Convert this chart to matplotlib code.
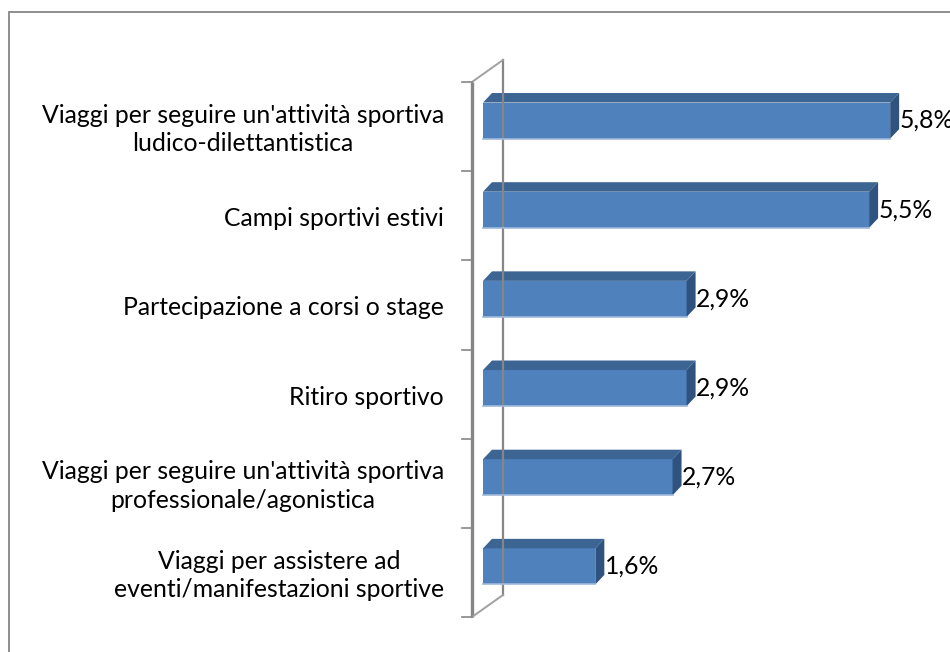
import matplotlib
matplotlib.use("Agg")
import matplotlib.pyplot as plt
from matplotlib.patches import Polygon, Rectangle

plt.rcParams['font.family'] = ['Lato', 'DejaVu Sans']

categories = [
    "Viaggi per seguire un'attività sportiva\nludico-dilettantistica",
    "Campi sportivi estivi",
    "Partecipazione a corsi o stage",
    "Ritiro sportivo",
    "Viaggi per seguire un'attività sportiva\nprofessionale/agonistica",
    "Viaggi per assistere ad\neventi/manifestazioni sportive",
]
values = [5.8, 5.5, 2.9, 2.9, 2.7, 1.6]
value_labels = ["5,8%", "5,5%", "2,9%", "2,9%", "2,7%", "1,6%"]

W, H = 950, 652
PX_X = 70.2   # pixels per percent point
PX_Y = 89.0   # pixels per category band
FS = 17.8

FRONT = "#4f81bd"
TOP = "#3d6594"
SIDE = "#30527f"
GREY = "#868686"

fig = plt.figure(figsize=(W / 100, H / 100), dpi=100)
x0_px, band_top, band_bot = 483, 82, 617
ax = fig.add_axes([x0_px / W, 1 - band_bot / H, (W - x0_px) / W, (band_bot - band_top) / H])
ax.set_xlim(0, (W - x0_px) / PX_X)
ax.set_ylim(len(categories) - 0.5, -0.5)
ax.axis("off")

# outer chart frame (only top and left edges are inside the picture)
fig.patches.append(Rectangle((9 / W, -0.2), 1.2, 1.2 - 12 / H, transform=fig.transFigure,
                             fill=False, edgecolor=GREY, linewidth=1.3))

# 3d wall: front axis line, back line and the two diagonals
n = len(categories)
fx = -11 / PX_X
wdx, wdy = 31 / PX_X, 22 / PX_Y
ax.plot([fx, fx], [-0.5, n - 0.5], color=GREY, lw=2.4, clip_on=False, solid_capstyle="butt")
ax.plot([fx + wdx, fx + wdx], [-0.5 - wdy, n - 0.5 - wdy], color=GREY, lw=1.6, clip_on=False)
ax.plot([fx, fx + wdx], [-0.5, -0.5 - wdy], color="#a0a0a0", lw=1.4, clip_on=False)
ax.plot([fx, fx + wdx], [n - 0.5, n - 0.5 - wdy], color="#a0a0a0", lw=1.4, clip_on=False)
for k in range(n + 1):
    ax.plot([fx - 10 / PX_X, fx], [k - 0.5, k - 0.5], color=GREY, lw=1.2, clip_on=False)

# bars: front face, top face, right face
ddx, ddy = 9 / PX_X, 9.5 / PX_Y
for i, v in enumerate(values):
    top = i - 24 / PX_Y
    bot = i + 12 / PX_Y
    ax.add_patch(Rectangle((0, top), v, bot - top, facecolor=FRONT, edgecolor="none", clip_on=False))
    ax.add_patch(Polygon([(0, top), (ddx, top - ddy), (v + ddx, top - ddy), (v, top)],
                         facecolor=TOP, edgecolor="none", clip_on=False))
    ax.add_patch(Polygon([(v, top), (v + ddx, top - ddy), (v + ddx, bot - ddy), (v, bot)],
                         facecolor=SIDE, edgecolor="none", clip_on=False))
    ax.plot([0, v], [bot, bot], color="#9fb9dc", lw=1.2, clip_on=False)
    ax.text(v + ddx + 0.5 / PX_X, i - 6 / PX_Y, value_labels[i], ha="left", va="center",
            fontsize=FS, color="black", clip_on=False)
    ax.text(-39 / PX_X, i + 3 / PX_Y, categories[i], ha="right", va="center",
            multialignment="center", fontsize=FS, linespacing=1.3, color="black")

fig.savefig("out.png", dpi=100)
